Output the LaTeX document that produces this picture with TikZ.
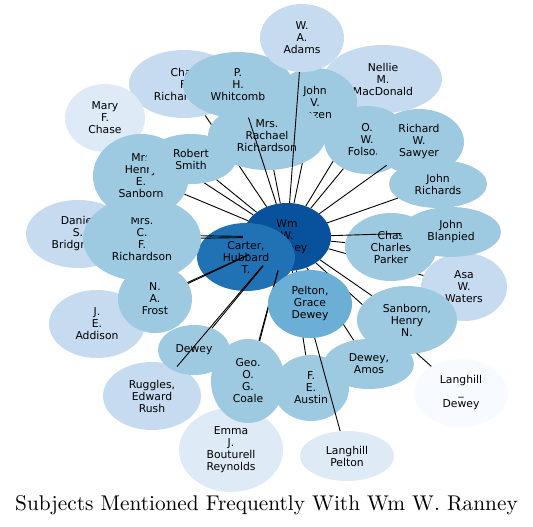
\documentclass[tikz,border=0pt]{standalone}
\usepackage{fontspec}
\usepackage{tikz}
\usetikzlibrary{shapes.geometric}
\newfontfamily\dejavu{DejaVu Sans}
\newfontfamily\titlefont{lmroman10-regular.otf}
\definecolor{BluA}{HTML}{F7FBFF}
\definecolor{BluB}{HTML}{DEEBF7}
\definecolor{BluC}{HTML}{C6DBEF}
\definecolor{BluD}{HTML}{9ECAE1}
\definecolor{BluE}{HTML}{6BAED6}
\definecolor{BluF}{HTML}{2171B5}
\definecolor{BluG}{HTML}{08519C}

\begin{document}
\begin{tikzpicture}[x=1pt,y=-1pt,
    bub/.style={ellipse,inner sep=0pt,align=center,font=\dejavu\fontsize{10.8}{12}\selectfont},
    two/.style={minimum height=50pt},
    three/.style={minimum height=68pt},
    four/.style={minimum height=84pt},
    link/.style={black,line width=.9pt}]
        \useasboundingbox(0,0)rectangle(533,527);
        % nodes at the back
        \node[bub,three,fill=BluG,minimum width=88pt](ranney)at(287,237){Wm\\W.\\Ranney};
        \node[bub,three,fill=BluF,minimum width=98pt](carter)at(246,257){Carter,\\Hubbard\\T.};
        \node[bub,three,fill=BluC,minimum width=110pt](chasf)at(184,84){Chas\\F.\\Richardson};
        \node[bub,three,fill=BluB,minimum width=80pt](mary)at(105,118){Mary\\F.\\Chase};
        \node[bub,three,fill=BluC,minimum width=104pt](bridgman)at(78,234){Daniel\\S.\\Bridgman};
        \node[bub,three,fill=BluC,minimum width=96pt](addison)at(97,324){J.\\E.\\Addison};
        \node[bub,three,fill=BluC,minimum width=118pt](nellie)at(383,79){Nellie\\M.\\MacDonald};
        \node[bub,three,fill=BluC,minimum width=86pt](asa)at(464,287){Asa\\W.\\Waters};
        \node[bub,three,fill=BluA,minimum width=94pt](ldewey)at(461,393){Langhill\\\_\\Dewey};
        \node[bub,four,fill=BluB,minimum width=104pt](emma)at(231,450){Emma\\J.\\Bouturell\\Reynolds};
        \node[bub,two,fill=BluB,minimum width=94pt](lpelton)at(347,456){Langhill\\Pelton};
        \node[bub,three,fill=BluC,minimum width=98pt](ruggles)at(152,396){Ruggles,\\Edward\\Rush};
        \node[bub,three,fill=BluD,minimum width=84pt](hazen)at(315,102){John\\V.\\Hazen};
        \node[bub,two,fill=BluD,minimum width=98pt,minimum height=48pt](richards)at(438,184){John\\Richards};
        \node[bub,three,fill=BluD,minimum width=76pt,minimum height=66pt](austin)at(311,388){F.\\E.\\Austin};
        \node[bub,two,fill=BluD,minimum width=90pt](amos)at(369,364){Dewey,\\Amos};
        \foreach \n in {chasf,mary,hazen,nellie,asa,ldewey,amos,austin,emma,addison,bridgman}
          \draw[link](ranney)--(\n);
        % nodes in the middle
        \node[bub,three,fill=BluD,minimum width=110pt,minimum height=66pt](whitcomb)at(238,85){P.\\H.\\Whitcomb};
        \node[bub,three,fill=BluD,minimum width=118pt](rachael)at(267,136){Mrs.\\Rachael\\Richardson};
        \node[bub,four,fill=BluD,minimum width=118pt](mrscf)at(142,239){Mrs.\\C.\\F.\\Richardson};
        \node[bub,four,fill=BluD,minimum width=96pt](henry)at(141,176){Mrs\\Henry\\E.\\Sanborn};
        \node[bub,two,fill=BluD,minimum width=90pt](smith)at(191,159){Robert\\Smith};
        \node[bub,three,fill=BluC,minimum width=84pt](adams)at(302,38){W.\\A.\\Adams};
        \node[bub,three,fill=BluD,minimum width=86pt](folsom)at(367,140){O.\\W.\\Folsom};
        \node[bub,three,fill=BluD,minimum width=90pt,minimum height=66pt](sawyer)at(419,142){Richard\\W.\\Sawyer};
        \node[bub,three,fill=BluD,minimum width=92pt](parker)at(391,247){Chas\\Charles\\Parker};
        \node[bub,two,fill=BluD,minimum width=100pt](blanpied)at(451,232){John\\Blanpied};
        \node[bub,three,fill=BluD,minimum width=74pt](frost)at(155,299){N.\\A.\\Frost};
        \node[bub,three,fill=BluD,minimum width=100pt](sanbornhn)at(407,320){Sanborn,\\Henry\\N.};
        \node[bub,two,fill=BluD,minimum width=72pt](dewey)at(194,350){Dewey};
        \node[bub,four,fill=BluD,minimum width=74pt](coale)at(248,381){Geo.\\O.\\G.\\Coale};
        \foreach \n in {whitcomb,adams,rachael,smith,henry,folsom,sawyer,richards,parker,blanpied,sanbornhn,coale,dewey,ruggles,frost,mrscf,lpelton}
          \draw[link](ranney)--(\n);
        % front
        \node[bub,three,fill=BluE,minimum width=84pt](pelton)at(310,304){Pelton,\\Grace\\Dewey};
        \node[anchor=base,font=\titlefont\fontsize{21.3}{25}\selectfont](title)at(266.5,510){Subjects Mentioned Frequently With Wm W. Ranney};
      \end{tikzpicture}
\end{document}
